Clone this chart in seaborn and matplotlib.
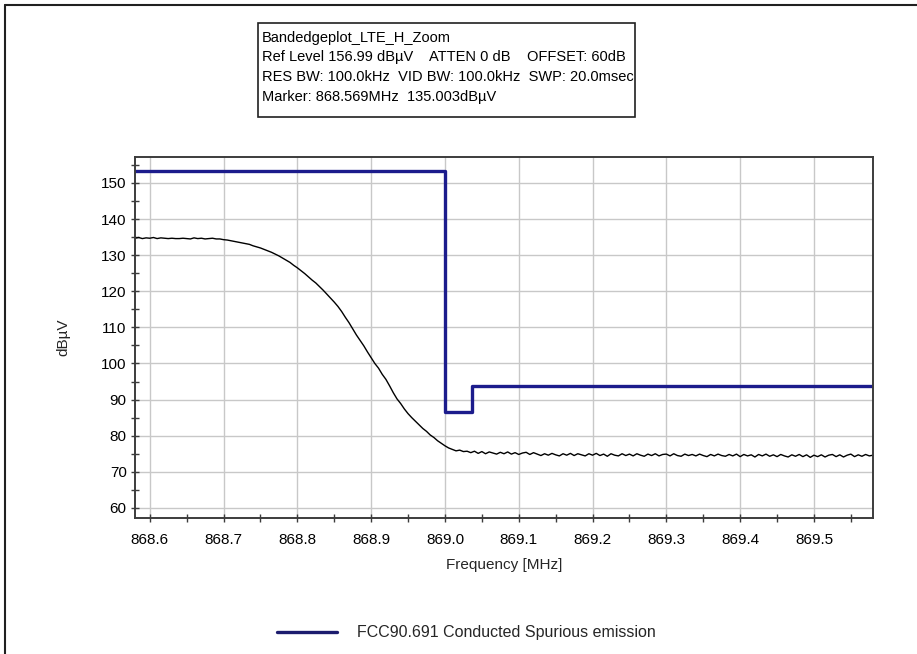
import numpy as np
import matplotlib
matplotlib.use("Agg")
import matplotlib.pyplot as plt
from matplotlib.lines import Line2D
from matplotlib.ticker import MultipleLocator
import pandas as pd
import seaborn as sns

# %%% Donnees lues sur le graphe %%%%%%%%%%%%%%%%%%%%%%%%%%%%%

# balayage de l'analyseur : 201 points de 868.58 a 869.58 MHz
F_START = 868.58
F_STOP = 869.58

trace_level = [
    134.7, 134.9, 134.6, 134.8, 134.7, 134.9, 134.6, 134.8, 134.7, 134.6,
    134.7, 134.6, 134.6, 134.7, 134.6, 134.5, 134.8, 134.6, 134.7, 134.5,
    134.6, 134.7, 134.5, 134.5, 134.3, 134.2, 134.0, 133.8, 133.6, 133.4,
    133.2, 133.0, 132.6, 132.3, 132.0, 131.6, 131.2, 130.8, 130.3, 129.8,
    129.2, 128.6, 128.0, 127.2, 126.5, 125.7, 124.9, 124.0, 123.1, 122.3,
    121.3, 120.3, 119.2, 118.1, 117.0, 115.8, 114.4, 112.8, 111.3, 109.6,
    107.9, 106.4, 104.9, 103.2, 101.6, 100.0, 98.7, 97.0, 95.6, 93.8,
    91.9, 90.2, 88.9, 87.4, 86.1, 85.0, 84.0, 83.0, 82.0, 81.2,
    80.2, 79.5, 78.6, 77.9, 77.2, 76.6, 76.2, 75.8, 76.0, 75.6,
    75.7, 75.3, 75.7, 75.1, 75.6, 75.0, 75.5, 75.2, 74.9, 75.4,
    75.0, 75.5, 74.9, 75.3, 74.8, 75.2, 75.4, 74.8, 75.3, 74.9,
    74.5, 75.0, 74.6, 75.1, 74.7, 74.4, 75.0, 74.6, 75.1, 74.5,
    75.0, 74.7, 74.4, 75.0, 74.6, 75.1, 74.5, 74.9, 74.3, 75.0,
    74.6, 74.4, 75.0, 74.5, 74.9, 74.4, 75.0, 74.6, 74.3, 74.9,
    74.5, 75.0, 74.4, 74.8, 74.9, 74.4, 75.0, 74.5, 74.3, 74.9,
    74.5, 74.8, 74.4, 74.9, 74.5, 74.2, 74.8, 74.4, 74.9, 74.5,
    74.3, 74.8, 74.4, 74.9, 74.2, 74.8, 74.4, 74.7, 74.1, 74.8,
    74.4, 74.9, 74.3, 74.7, 74.2, 74.8, 74.4, 74.1, 74.7, 74.3,
    74.8, 74.2, 74.7, 74.0, 74.6, 74.2, 74.7, 74.1, 74.6, 74.8,
    74.2, 74.7, 74.1, 74.6, 74.9, 74.2, 74.7, 74.3, 74.8, 74.4,
    74.6,
]
trace_freq = np.linspace(F_START, F_STOP, len(trace_level))

# ligne limite FCC (escalier)
limit_freq = [868.58, 869.0, 869.0, 869.037, 869.037, 869.58]
limit_level = [153.4, 153.4, 86.6, 86.6, 93.7, 93.7]

x_ticks = [868.6, 868.7, 868.8, 868.9, 869.0, 869.1, 869.2, 869.3, 869.4, 869.5]
y_ticks = [60, 70, 80, 90, 100, 110, 120, 130, 140, 150]

info_lines = [
    "Bandedgeplot_LTE_H_Zoom",
    "Ref Level 156.99 dB\u00b5V    ATTEN 0 dB    OFFSET: 60dB",
    "RES BW: 100.0kHz  VID BW: 100.0kHz  SWP: 20.0msec",
    "Marker: 868.569MHz  135.003dB\u00b5V",
]
legend_label = "FCC90.691 Conducted Spurious emission"

# %%% Figure %%%%%%%%%%%%%%%%%%%%%%%%%%%%%%%%%%%%%%%%%%%%%%%%%

sns.set_theme(style="white")
plt.rcParams["font.family"] = ["Liberation Sans", "DejaVu Sans"]

LIMIT_COLOR = "#1c1c8c"
SPINE_COLOR = "#3c3c3c"

fig = plt.figure(figsize=(9.17, 6.54), dpi=100)
fig.patch.set_facecolor("white")
ax = fig.add_axes([135 / 917, 1 - 518 / 654, (873 - 135) / 917, (518 - 157) / 654])

df_trace = pd.DataFrame({"freq": trace_freq, "level": trace_level})
df_limit = pd.DataFrame({"freq": limit_freq, "level": limit_level})

sns.lineplot(data=df_trace, x="freq", y="level", ax=ax, color="black",
             linewidth=1.0, estimator=None, sort=False)
sns.lineplot(data=df_limit, x="freq", y="level", ax=ax, color=LIMIT_COLOR,
             linewidth=2.4, estimator=None, sort=False)

ax.set_xlim(868.58, 869.58)
ax.set_ylim(57.2, 157.2)
ax.set_xticks(x_ticks)
ax.set_xticklabels([f"{v:.1f}" for v in x_ticks])
ax.set_yticks(y_ticks)
ax.xaxis.set_minor_locator(MultipleLocator(0.05))
ax.yaxis.set_minor_locator(MultipleLocator(5))
ax.tick_params(which="both", bottom=True, left=True, direction="inout",
               length=6, width=1, color=SPINE_COLOR)
ax.tick_params(which="major", labelsize=11, labelcolor="black")
ax.tick_params(axis="x", which="major", pad=8)
ax.tick_params(axis="y", which="major", pad=3)

ax.grid(True, which="major", color="#c8c8c8", linewidth=1)
for sp in ax.spines.values():
    sp.set_color(SPINE_COLOR)
    sp.set_linewidth(1.4)

ax.set_xlabel("Frequency [MHz]", fontsize=11, labelpad=8)
ax.set_ylabel("dB\u00b5V", fontsize=11, labelpad=22)

# boite d'infos en haut
fig.patches.append(plt.Rectangle((258 / 917, 1 - 117 / 654), (635 - 258) / 917, (117 - 23) / 654,
                                 transform=fig.transFigure, fill=False,
                                 edgecolor="#202020", linewidth=1.2))
for i, line in enumerate(info_lines):
    fig.text(262 / 917, 1 - (38 + i * 19.5) / 654, line, fontsize=10.5,
             va="center", ha="left", color="black")

# cadre exterieur (haut et gauche)
fig.add_artist(Line2D([5 / 917, 1], [1 - 5 / 654, 1 - 5 / 654],
                      transform=fig.transFigure, color="#202020", linewidth=1.5))
fig.add_artist(Line2D([5 / 917, 5 / 917], [0, 1 - 5 / 654],
                      transform=fig.transFigure, color="#202020", linewidth=1.5))

handle = Line2D([], [], color="#1c1c6e", linewidth=2.4)
fig.legend(handles=[handle], labels=[legend_label], loc="center",
           bbox_to_anchor=(466 / 917, 1 - 633 / 654), frameon=False,
           fontsize=11.5, handlelength=3.75, handletextpad=1.25)

fig.savefig("out.png", dpi=100)
